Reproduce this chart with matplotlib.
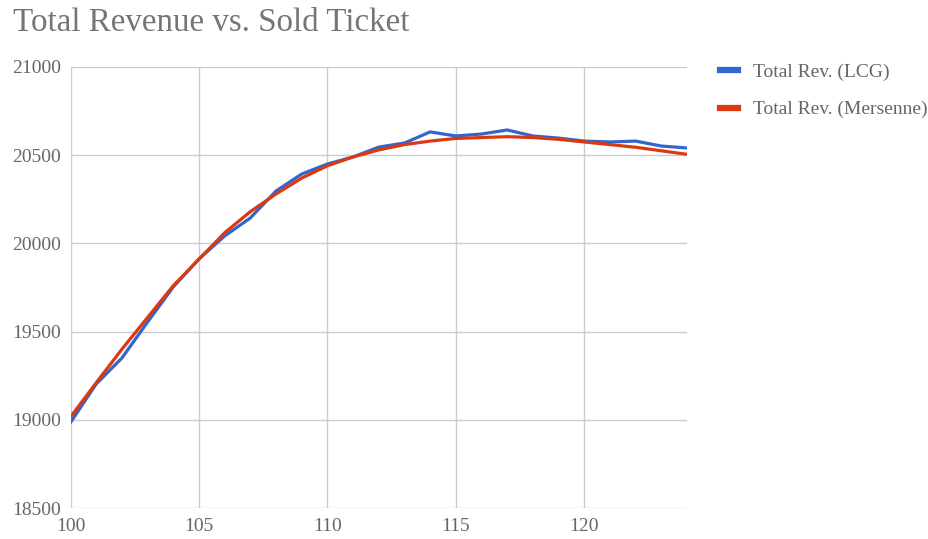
import matplotlib
matplotlib.use("Agg")
import matplotlib.pyplot as plt
from matplotlib.lines import Line2D

# sold tickets and total revenue for the two generators
tickets = list(range(100, 125))
rev_lcg = [18985, 19203, 19350, 19554, 19753, 19912, 20042, 20144, 20297, 20393,
           20450, 20490, 20546, 20569, 20632, 20609, 20620, 20643, 20609, 20597,
           20580, 20575, 20580, 20552, 20541]
rev_mersenne = [19016, 19210, 19400, 19580, 19760, 19910, 20060, 20180, 20280, 20370,
                20440, 20490, 20530, 20560, 20580, 20595, 20600, 20605, 20600, 20590,
                20575, 20560, 20545, 20525, 20505]
series_names = ["Total Rev. (LCG)", "Total Rev. (Mersenne)"]
x_ticks = [100, 105, 110, 115, 120]
y_ticks = [18500, 19000, 19500, 20000, 20500, 21000]

plt.rcParams['font.family'] = ['Liberation Serif', 'DejaVu Serif']

fig = plt.figure(figsize=(9.29, 5.39), dpi=100)
ax = fig.add_axes([0.0759, 0.0575, 0.6636, 0.8182])

blue = '#3366cc'
red = '#dc3912'
ax.plot(tickets, rev_lcg, color=blue, lw=2.3, solid_capstyle='round')
ax.plot(tickets, rev_mersenne, color=red, lw=2.3, solid_capstyle='round')

ax.set_xlim(100, 124)
ax.set_ylim(18500, 21000)
ax.set_xticks(x_ticks)
ax.set_yticks(y_ticks)
ax.grid(True, color='#cccccc', lw=1)
ax.set_axisbelow(True)
for s in ax.spines.values():
    s.set_visible(False)
ax.tick_params(length=0, labelsize=14, colors='#666666')
ax.tick_params(axis='y', pad=7)
ax.tick_params(axis='x', pad=7)

fig.text(0.014, 0.943, "Total Revenue vs. Sold Ticket", fontsize=23.8,
         color='#757575', ha='left', va='baseline')

handles = [Line2D([], [], color=blue, lw=4.5), Line2D([], [], color=red, lw=4.5)]
ax.legend(handles, series_names, loc='upper left', bbox_to_anchor=(0.775, 0.882),
          bbox_transform=fig.transFigure, frameon=False, fontsize=14,
          labelcolor='#666666', handlelength=0.95, handletextpad=0.75,
          labelspacing=1.0, borderpad=0, borderaxespad=0)

fig.savefig("out.png", dpi=100)
